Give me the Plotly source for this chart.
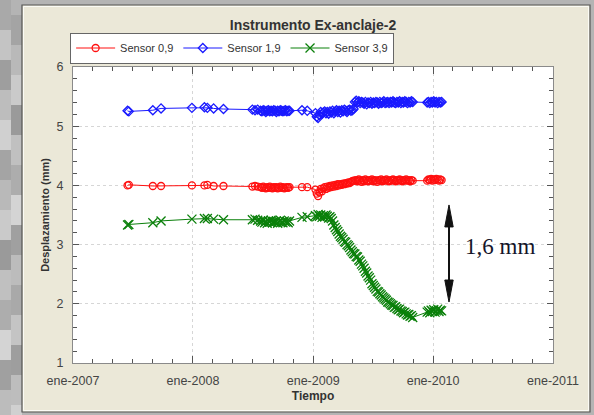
import plotly.graph_objects as go

# ---------------- data ----------------
fechas = [
    "2007-06-16", "2007-06-20", "2007-09-01", "2007-09-26", "2007-12-29", "2008-02-05",
    "2008-02-14", "2008-03-04", "2008-04-03", "2008-06-30", "2008-07-08", "2008-07-16",
    "2008-07-25", "2008-07-29", "2008-08-02", "2008-08-06", "2008-08-10", "2008-08-14",
    "2008-08-18", "2008-08-22", "2008-08-26", "2008-08-30", "2008-09-03", "2008-09-07",
    "2008-09-11", "2008-09-15", "2008-09-19", "2008-09-23", "2008-09-27", "2008-10-01",
    "2008-10-05", "2008-10-09", "2008-10-13", "2008-10-17", "2008-10-21",
    "2008-11-28", "2008-12-14",
    "2009-01-08", "2009-01-12", "2009-01-16", "2009-01-20", "2009-01-24", "2009-01-28",
    "2009-02-01", "2009-02-05", "2009-02-09", "2009-02-13", "2009-02-17", "2009-02-21",
    "2009-02-25", "2009-03-01", "2009-03-05", "2009-03-09", "2009-03-13", "2009-03-17",
    "2009-03-21", "2009-03-25", "2009-03-29", "2009-04-02", "2009-04-06", "2009-04-10",
    "2009-04-14", "2009-04-18", "2009-04-22", "2009-04-26", "2009-04-30", "2009-05-04",
    "2009-05-08", "2009-05-12", "2009-05-16", "2009-05-20", "2009-05-24", "2009-05-28",
    "2009-06-01", "2009-06-05", "2009-06-09", "2009-06-13", "2009-06-17", "2009-06-21",
    "2009-06-25", "2009-06-29", "2009-07-03", "2009-07-07", "2009-07-11", "2009-07-15",
    "2009-07-19", "2009-07-23", "2009-07-27", "2009-07-31", "2009-08-04", "2009-08-08",
    "2009-08-12", "2009-08-16", "2009-08-20", "2009-08-24", "2009-08-28", "2009-09-01",
    "2009-09-05", "2009-09-09", "2009-09-13", "2009-09-17", "2009-09-21", "2009-09-25",
    "2009-09-29", "2009-10-03", "2009-10-07", "2009-10-11", "2009-10-15", "2009-10-19",
    "2009-10-23", "2009-10-27", "2009-10-31",
    "2009-12-14", "2009-12-18", "2009-12-22", "2009-12-26", "2009-12-30", "2010-01-03",
    "2010-01-07", "2010-01-11", "2010-01-15", "2010-01-19", "2010-01-23", "2010-01-27",
]

sensor_0_9 = [
    4.00, 4.01, 3.99, 3.99, 4.00, 4.00, 4.01, 3.99, 3.99, 3.98, 3.99, 3.98,
    3.97, 3.96, 3.98, 3.96, 3.95, 3.97, 3.96, 3.98, 3.96, 3.95, 3.97, 3.96,
    3.97, 3.95, 3.96, 3.98, 3.96, 3.97, 3.95, 3.96, 3.97, 3.96, 3.97,
    3.97, 3.97,
    3.93, 3.86, 3.82, 3.88, 3.94, 3.90, 3.95, 3.97, 3.94, 3.98, 3.96, 3.99,
    3.97, 4.00, 3.98, 4.01, 3.99, 4.02, 4.00, 4.02, 4.01, 4.03, 4.02, 4.04,
    4.03, 4.05, 4.04, 4.06, 4.07, 4.08,
    4.08, 4.09, 4.07, 4.10, 4.08, 4.06, 4.09, 4.07, 4.10, 4.08, 4.07, 4.09,
    4.08, 4.10, 4.07, 4.09, 4.08, 4.06, 4.09, 4.08, 4.10, 4.07, 4.09, 4.08,
    4.10, 4.08, 4.07, 4.09, 4.08, 4.10, 4.09, 4.07, 4.09, 4.08, 4.10, 4.09,
    4.07, 4.09, 4.08, 4.10, 4.08, 4.09, 4.07, 4.09, 4.08,
    4.08, 4.10, 4.09, 4.11, 4.08, 4.10, 4.09, 4.11, 4.10, 4.08, 4.10, 4.09,
]

sensor_1_9 = [
    5.26, 5.25, 5.27, 5.30, 5.31, 5.32, 5.31, 5.30, 5.29, 5.28, 5.27, 5.28,
    5.26, 5.25, 5.27, 5.26, 5.24, 5.26, 5.27, 5.25, 5.26, 5.25, 5.27, 5.26,
    5.24, 5.26, 5.25, 5.27, 5.26, 5.25, 5.26, 5.27, 5.25, 5.26, 5.26,
    5.27, 5.26,
    5.22, 5.16, 5.14, 5.19, 5.24, 5.21, 5.23, 5.25, 5.22, 5.24, 5.21, 5.25,
    5.23, 5.26, 5.22, 5.25, 5.27, 5.24, 5.26, 5.23, 5.27, 5.25, 5.28, 5.26,
    5.24, 5.27, 5.28, 5.26, 5.27, 5.29,
    5.41, 5.43, 5.40, 5.42, 5.39, 5.41, 5.40, 5.38, 5.41, 5.37, 5.40, 5.39,
    5.41, 5.38, 5.40, 5.39, 5.41, 5.40, 5.38, 5.41, 5.39, 5.40, 5.42, 5.39,
    5.40, 5.41, 5.39, 5.41, 5.40, 5.42, 5.40, 5.39, 5.41, 5.40, 5.42, 5.39,
    5.41, 5.40, 5.42, 5.41, 5.39, 5.41, 5.40, 5.42, 5.41,
    5.40, 5.41, 5.39, 5.41, 5.40, 5.42, 5.40, 5.41, 5.39, 5.41, 5.40, 5.41,
]

sensor_3_9 = [
    3.33, 3.34, 3.37, 3.40, 3.43, 3.44, 3.44, 3.43, 3.42, 3.42, 3.43, 3.41,
    3.40, 3.38, 3.41, 3.37, 3.39, 3.36, 3.40, 3.38, 3.41, 3.37, 3.39, 3.38,
    3.40, 3.36, 3.39, 3.41, 3.38, 3.37, 3.40, 3.38, 3.39, 3.37, 3.40,
    3.46, 3.47,
    3.49, 3.47, 3.51, 3.48, 3.50, 3.46, 3.49, 3.47, 3.50, 3.48, 3.45, 3.47,
    3.44, 3.40, 3.33, 3.29, 3.25, 3.22, 3.18, 3.14, 3.12, 3.09, 3.05, 3.04,
    3.00, 2.98, 2.95, 2.91, 2.88, 2.85,
    2.84, 2.80, 2.79, 2.74, 2.72, 2.67, 2.64, 2.60, 2.55, 2.52, 2.47, 2.44,
    2.40, 2.34, 2.31, 2.28, 2.25, 2.21, 2.20, 2.17, 2.15, 2.12, 2.10, 2.08,
    2.06, 2.03, 2.02, 2.00, 1.98, 1.97, 1.94, 1.95, 1.92, 1.90, 1.91, 1.88,
    1.87, 1.85, 1.86, 1.83, 1.81, 1.82, 1.79, 1.80, 1.77,
    1.86, 1.88, 1.85, 1.89, 1.87, 1.90, 1.86, 1.88, 1.91, 1.87, 1.89, 1.88,
]

series_names = ["Sensor 0,9", "Sensor 1,9", "Sensor 3,9"]
x_range = ["2007-01-01", "2011-01-01"]
y_range = [1, 6]

# annotation (arrow 1,6 mm)
arrow_top = 3.67
arrow_bottom = 2.03
arrow_label = "1,6 mm"

# ---------------- figure ----------------
SANS = "Liberation Sans, Arial, sans-serif"
fig = go.Figure()

styles = [
    dict(color="#ff1010", symbol="circle-open", size=7),
    dict(color="#1a1aff", symbol="diamond-open", size=7),
    dict(color="#0b800b", symbol="x-thin-open", size=9),
]
for name, vals, st in zip(series_names, [sensor_0_9, sensor_1_9, sensor_3_9], styles):
    fig.add_trace(go.Scatter(
        x=fechas, y=vals, name=name, mode="lines+markers",
        line=dict(color=st["color"], width=1),
        marker=dict(symbol=st["symbol"], size=st["size"], color=st["color"],
                    line=dict(color=st["color"], width=1.3)),
    ))

axis_common = dict(
    showline=True, linecolor="#8a8a8a", linewidth=1, mirror="ticks",
    ticks="inside", tickcolor="#555", tickwidth=1,
    showgrid=True, gridcolor="#d6d6d6", griddash="dot", gridwidth=1,
    zeroline=False,
    tickfont=dict(family=SANS, size=12.5, color="#444"),
)

fig.update_xaxes(
    type="date", range=x_range, dtick="M12", tick0="2007-01-01",
    tickformat="ene-%Y", ticklen=7, ticklabelstandoff=6,
    minor=dict(ticks="inside", dtick="M2", ticklen=4, tickcolor="#555", showgrid=False),
    title=dict(text="<b>Tiempo</b>", font=dict(family=SANS, size=12, color="#333"), standoff=4),
    **axis_common,
)
fig.update_yaxes(
    range=y_range, dtick=1, ticklen=6, ticklabelstandoff=6,
    minor=dict(ticks="inside", dtick=0.2, ticklen=4, tickcolor="#555", showgrid=False),
    title=dict(text="<b>Desplazamiento (mm)</b>", font=dict(family=SANS, size=11, color="#333"), standoff=4),
    **axis_common,
)

# panel decorations (gray surround, panel border)
L, R, T, B = 73, 41, 67, 52
W, H = 594, 415
pw, ph = W - L - R, H - T - B
def px(xp):
    return (xp - L) / pw
def py(yp):
    return (H - B - yp) / ph

gray = "#b4b4b4"
shapes = [
    dict(type="rect", xref="paper", yref="paper", x0=px(0), x1=px(22), y0=py(H), y1=py(0),
         fillcolor=gray, line=dict(width=0), layer="below"),
    dict(type="rect", xref="paper", yref="paper", x0=px(0), x1=px(W), y0=py(5), y1=py(0),
         fillcolor=gray, line=dict(width=0), layer="below"),
    dict(type="rect", xref="paper", yref="paper", x0=px(590), x1=px(W), y0=py(H), y1=py(0),
         fillcolor=gray, line=dict(width=0), layer="below"),
    dict(type="rect", xref="paper", yref="paper", x0=px(0), x1=px(W), y0=py(H), y1=py(412),
         fillcolor=gray, line=dict(width=0), layer="below"),
    dict(type="rect", xref="paper", yref="paper", x0=px(22), x1=px(590), y0=py(412), y1=py(5),
         fillcolor="rgba(0,0,0,0)", line=dict(color="#555", width=1.2)),
    dict(type="rect", xref="paper", yref="paper", x0=px(23.5), x1=px(588.5), y0=py(410.5), y1=py(6.5),
         fillcolor="rgba(0,0,0,0)", line=dict(color="#fbfbf5", width=1)),
]
# pixelated blocks on the left strip
blocks = ["#a9a9a9", "#c4c4c4", "#9e9e9e", "#bdbdbd", "#d0d0d0", "#a4a4a4", "#b9b9b9", "#cacaca",
          "#9a9a9a", "#c0c0c0", "#adadad", "#d4d4d4", "#a0a0a0", "#bcbcbc"]
for i, c in enumerate(blocks):
    y0 = i * 30
    shapes.append(dict(type="rect", xref="paper", yref="paper", x0=px(0), x1=px(11),
                       y0=py(min(H, y0 + 30)), y1=py(y0), fillcolor=c, line=dict(width=0), layer="below"))
    c2 = blocks[(i + 5) % len(blocks)]
    shapes.append(dict(type="rect", xref="paper", yref="paper", x0=px(11), x1=px(22),
                       y0=py(min(H, y0 + 15 + 30)), y1=py(y0 + 15), fillcolor=c2, line=dict(width=0), layer="below"))

# double arrow
ax_p = px(449)
hw = 4.2 / pw
head = 22 / 59.2
shapes.append(dict(type="line", xref="paper", yref="y", x0=ax_p, x1=ax_p,
                   y0=arrow_bottom + head * 0.8, y1=arrow_top - head * 0.8, line=dict(color="#111", width=2)))
shapes.append(dict(type="path", xref="paper", yref="y",
                   path=f"M {ax_p},{arrow_top} L {ax_p - hw},{arrow_top - head} L {ax_p + hw},{arrow_top - head} Z",
                   fillcolor="#111", line=dict(color="#111", width=1)))
shapes.append(dict(type="path", xref="paper", yref="y",
                   path=f"M {ax_p},{arrow_bottom} L {ax_p - hw},{arrow_bottom + head} L {ax_p + hw},{arrow_bottom + head} Z",
                   fillcolor="#111", line=dict(color="#111", width=1)))

fig.update_layout(
    width=W, height=H,
    margin=dict(l=L, r=R, t=T, b=B, autoexpand=False),
    paper_bgcolor="#ebe8d8",
    plot_bgcolor="#ffffff",
    shapes=shapes,
    title=dict(text="<b>Instrumento Ex-anclaje-2</b>", x=0.5, xref="paper", xanchor="center",
               y=1 - 25 / H, yanchor="middle", font=dict(family=SANS, size=14, color="#333")),
    legend=dict(orientation="h", x=-0.006, xanchor="left", y=py(48), yanchor="middle",
                bgcolor="#ffffff", bordercolor="#666", borderwidth=1,
                font=dict(family=SANS, size=11, color="#333"),
                itemwidth=39, tracegroupgap=0),
    annotations=[dict(text=arrow_label, xref="paper", yref="y", x=px(500), y=(arrow_top + arrow_bottom) / 2 + 0.12,
                      showarrow=False, xanchor="center", yanchor="middle",
                      font=dict(family="Liberation Serif, Times New Roman, serif", size=23, color="#15152a"))],
    showlegend=True,
)

fig.write_html("out.html", config={"displayModeBar": False},
               post_script="document.body.style.margin='0';document.body.style.overflow='hidden';")
